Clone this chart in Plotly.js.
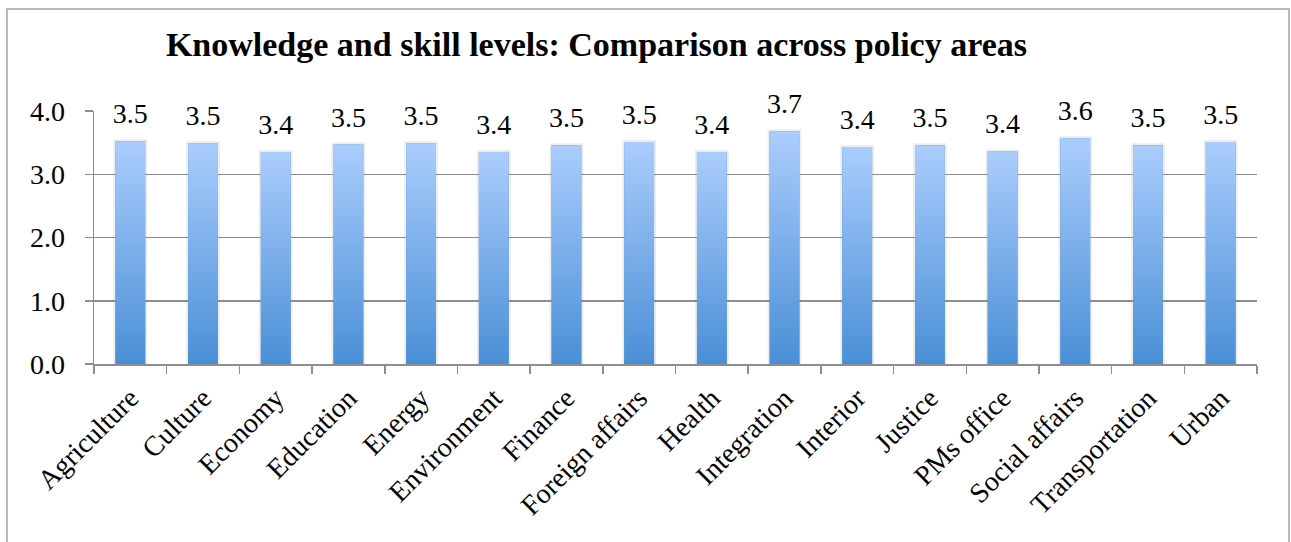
<!DOCTYPE html>
<html>
<head>
<meta charset="utf-8">
<script src="https://cdn.plot.ly/plotly-3.0.1.min.js"></script>
<style>
  html, body { margin: 0; padding: 0; background: #ffffff; overflow: hidden; width: 1291px; height: 542px; }
  #frame { position: absolute; left: 6px; top: 8px; width: 1284px; height: 600px; border: 2px solid #b9b9b9; box-sizing: border-box; }
  #chart { position: absolute; left: 0; top: 0; width: 1291px; height: 542px; }
</style>
</head>
<body>
<div id="frame"></div>
<div id="chart"></div>
<script>
// ---- data ----
const categories = ["Agriculture", "Culture", "Economy", "Education", "Energy", "Environment",
  "Finance", "Foreign affairs", "Health", "Integration", "Interior", "Justice",
  "PMs office", "Social affairs", "Transportation", "Urban"];
const values = [3.52, 3.49, 3.35, 3.47, 3.49, 3.35, 3.46, 3.51, 3.35, 3.68, 3.43, 3.46, 3.36, 3.57, 3.46, 3.51];
const yTickVals = [0, 1, 2, 3, 4];
const yTickText = ["0.0", "1.0", "2.0", "3.0", "4.0"];
const chartTitle = "Knowledge and skill levels: Comparison across policy areas";

// ---- style ----
const FONT = "'Liberation Serif', 'Times New Roman', serif";
const BAR_W = 0.41;
const DARK = "#4a8fd6";
const LIGHT = "#aacdfd";
const GRID = "#8e8e8e";

const traces = [];

// base bars (also give a soft shadow edge)
traces.push({
  type: "bar",
  x: categories,
  y: values,
  width: BAR_W,
  marker: { color: DARK, line: { color: "rgba(110,110,110,0.12)", width: 4 } },
  hoverinfo: "x+y",
  showlegend: false
});

// gradient overlay per bar, built from the same data on an overlaid linear axis
values.forEach((v, i) => {
  traces.push({
    type: "scatter",
    xaxis: "x2",
    x: [i - BAR_W / 2, i + BAR_W / 2, i + BAR_W / 2, i - BAR_W / 2, i - BAR_W / 2],
    y: [0, 0, v, v, 0],
    mode: "lines",
    line: { width: 0, color: "rgba(0,0,0,0)" },
    fill: "toself",
    fillgradient: { type: "vertical", colorscale: [[0, DARK], [1, LIGHT]] },
    hoverinfo: "skip",
    showlegend: false
  });
});

// value labels
traces.push({
  type: "scatter",
  x: categories,
  y: values,
  mode: "markers+text",
  marker: { size: 16, color: "rgba(0,0,0,0)" },
  text: values.map(v => v.toFixed(1)),
  textposition: "top center",
  textfont: { family: FONT, size: 28, color: "#000000" },
  cliponaxis: false,
  hoverinfo: "skip",
  showlegend: false
});

const layout = {
  width: 1291,
  height: 542,
  margin: { l: 94, r: 34, t: 111, b: 178, pad: 0 },
  paper_bgcolor: "rgba(0,0,0,0)",
  plot_bgcolor: "rgba(0,0,0,0)",
  showlegend: false,
  title: {
    text: "<b>" + chartTitle + "</b>",
    font: { family: FONT, size: 34, color: "#000000" },
    xref: "container", x: 0.462, xanchor: "center",
    yref: "container", y: 0.918, yanchor: "middle"
  },
  xaxis: {
    type: "category",
    categoryorder: "array",
    categoryarray: categories,
    range: [-0.5, categories.length - 0.5],
    tickson: "boundaries",
    ticks: "outside",
    ticklen: 8,
    tickwidth: 1.5,
    tickcolor: GRID,
    tickangle: -45,
    ticklabelstandoff: 5,
    tickfont: { family: FONT, size: 28, color: "#000000" },
    showline: true,
    linecolor: GRID,
    linewidth: 1.5,
    showgrid: false,
    zeroline: false,
    fixedrange: true
  },
  xaxis2: {
    overlaying: "x",
    range: [-0.5, categories.length - 0.5],
    visible: false,
    fixedrange: true
  },
  yaxis: {
    range: [0, 4],
    tickvals: yTickVals,
    ticktext: yTickText,
    ticks: "outside",
    ticklen: 8,
    tickwidth: 1.5,
    tickcolor: GRID,
    ticklabelstandoff: 14,
    tickfont: { family: FONT, size: 28, color: "#000000" },
    showline: true,
    linecolor: GRID,
    linewidth: 1.5,
    showgrid: true,
    gridcolor: GRID,
    gridwidth: 1.5,
    zeroline: false,
    fixedrange: true
  },
  bargap: 0.59
};

Plotly.newPlot("chart", traces, layout, { displayModeBar: false, staticPlot: true });
</script>
</body>
</html>
